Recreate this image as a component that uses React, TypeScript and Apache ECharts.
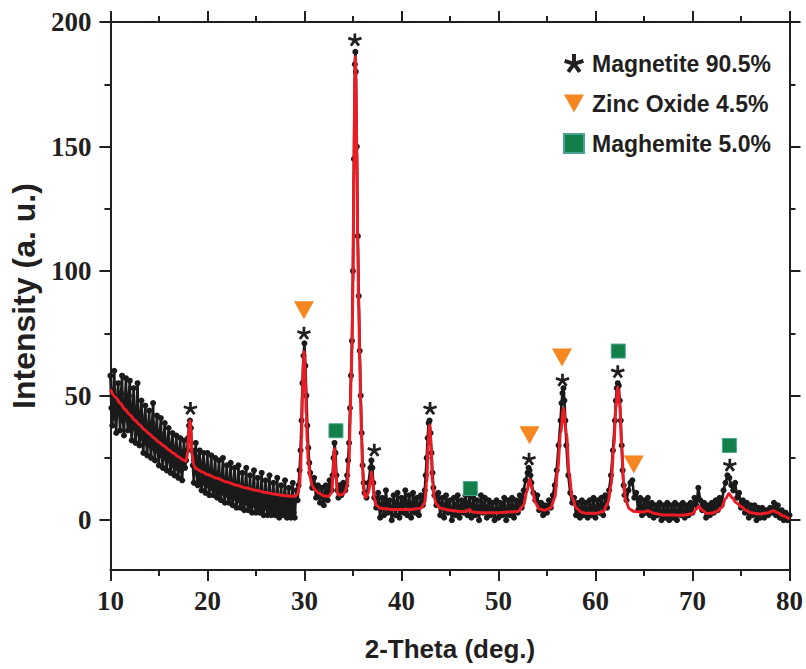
import React, { useEffect, useRef } from "react";
import * as echarts from "echarts";

// Raw XRD scan (2-theta in degrees, intensity in a.u.)
const scanLow: [number, number][] = [
  [10.0, 58], [10.1, 45], [10.2, 38], [10.3, 52], [10.4, 60], [10.5, 41], [10.6, 35], [10.7, 49], [10.8, 55], [10.9, 44],
  [11.0, 36], [11.1, 51], [11.2, 58], [11.3, 40], [11.4, 34], [11.5, 47], [11.6, 57], [11.7, 42], [11.8, 36], [11.9, 50],
  [12.0, 56], [12.1, 38], [12.2, 32], [12.3, 45], [12.4, 53], [12.5, 37], [12.6, 31], [12.7, 44], [12.8, 55], [12.9, 35],
  [13.0, 30], [13.1, 42], [13.2, 48], [13.3, 33], [13.4, 27], [13.5, 40], [13.6, 46], [13.7, 31], [13.8, 26], [13.9, 38],
  [14.0, 44], [14.1, 30], [14.2, 25], [14.3, 39], [14.4, 47], [14.5, 29], [14.6, 24], [14.7, 36], [14.8, 42], [14.9, 28],
  [15.0, 22], [15.1, 35], [15.2, 41], [15.3, 26], [15.4, 21], [15.5, 33], [15.6, 39], [15.7, 25], [15.8, 20], [15.9, 31],
  [16.0, 37], [16.1, 24], [16.2, 19], [16.3, 30], [16.4, 35], [16.5, 22], [16.6, 18], [16.7, 29], [16.8, 34], [16.9, 21],
  [17.0, 17], [17.1, 28], [17.2, 33], [17.3, 20], [17.4, 16], [17.5, 27], [17.6, 32], [17.7, 21], [17.8, 24], [17.9, 28],
  [18.0, 33], [18.1, 38], [18.2, 40], [18.3, 37], [18.4, 28], [18.5, 22], [18.6, 15], [18.7, 26], [18.8, 31], [18.9, 19],
  [19.0, 14], [19.1, 24], [19.2, 28], [19.3, 16], [19.4, 12], [19.5, 22], [19.6, 27], [19.7, 15], [19.8, 11], [19.9, 21],
  [20.0, 27], [20.1, 14], [20.2, 10], [20.3, 20], [20.4, 26], [20.5, 13], [20.6, 10], [20.7, 19], [20.8, 25], [20.9, 12],
  [21.0, 9], [21.1, 18], [21.2, 24], [21.3, 11], [21.4, 8], [21.5, 17], [21.6, 25], [21.7, 11], [21.8, 7], [21.9, 16],
  [22.0, 22], [22.1, 10], [22.2, 7], [22.3, 16], [22.4, 23], [22.5, 9], [22.6, 6], [22.7, 15], [22.8, 21], [22.9, 9],
  [23.0, 5], [23.1, 14], [23.2, 22], [23.3, 8], [23.4, 5], [23.5, 13], [23.6, 19], [23.7, 7], [23.8, 4], [23.9, 13],
  [24.0, 21], [24.1, 7], [24.2, 4], [24.3, 12], [24.4, 18], [24.5, 6], [24.6, 3], [24.7, 12], [24.8, 20], [24.9, 6],
  [25.0, 3], [25.1, 11], [25.2, 17], [25.3, 5], [25.4, 3], [25.5, 11], [25.6, 19], [25.7, 5], [25.8, 2], [25.9, 10],
  [26.0, 16], [26.1, 5], [26.2, 2], [26.3, 10], [26.4, 18], [26.5, 4], [26.6, 2], [26.7, 10], [26.8, 15], [26.9, 4],
  [27.0, 2], [27.1, 9], [27.2, 17], [27.3, 4], [27.4, 1], [27.5, 9], [27.6, 14], [27.7, 3], [27.8, 2], [27.9, 9],
  [28.0, 16], [28.1, 3], [28.2, 1], [28.3, 8], [28.4, 13], [28.5, 3], [28.6, 1], [28.7, 8], [28.8, 15], [28.9, 3],
  [29.0, 1], [29.1, 8], [29.2, 12],
];

const scanMid: [number, number][] = [
  [29.3, 8], [29.4, 14], [29.5, 20], [29.6, 28], [29.7, 40], [29.8, 55], [29.9, 66], [30.0, 71],
  [30.1, 62], [30.2, 50], [30.3, 38], [30.4, 29], [30.5, 23], [30.6, 19], [30.8, 13], [31.0, 17],
  [31.2, 9], [31.4, 14], [31.6, 7], [31.8, 13], [32.0, 6], [32.2, 14], [32.4, 8], [32.6, 16],
  [32.8, 12], [32.9, 18], [33.0, 25], [33.1, 31], [33.2, 27], [33.3, 18], [33.4, 12], [33.5, 9],
  [33.6, 14], [33.8, 10], [34.0, 15], [34.2, 12], [34.3, 14], [34.4, 18], [34.5, 24], [34.6, 31],
  [34.7, 45], [34.8, 58], [34.9, 72], [35.0, 100], [35.1, 145], [35.2, 183], [35.25, 188], [35.3, 180],
  [35.4, 150], [35.5, 114], [35.6, 90], [35.7, 68], [35.8, 50], [35.9, 35], [36.0, 22], [36.1, 15],
  [36.2, 11], [36.4, 9], [36.6, 15], [36.8, 21], [36.9, 24], [37.0, 21], [37.1, 15], [37.2, 9],
  [37.4, 5], [37.6, 11], [37.8, 1], [38.0, 9], [38.2, 2], [38.4, 12], [38.6, 3], [38.8, 8],
  [39.0, 0], [39.2, 10], [39.4, 2], [39.6, 11], [39.8, 1], [40.0, 9], [40.2, 3], [40.4, 12],
  [40.6, 2], [40.8, 10], [41.0, 1], [41.2, 11], [41.4, 3], [41.6, 9], [41.8, 2], [42.0, 10],
  [42.2, 6], [42.4, 12], [42.5, 18], [42.6, 25], [42.7, 33], [42.8, 39], [42.9, 40], [43.0, 35],
  [43.1, 27], [43.2, 19], [43.3, 13], [43.4, 10], [43.6, 6], [43.8, 11], [44.0, 2],
];

const scanHigh: [number, number][] = [
  [44.2, 9], [44.4, 1], [44.6, 10], [44.8, 3], [45.0, 8], [45.2, 0], [45.4, 9], [45.6, 2],
  [45.8, 10], [46.0, 1], [46.2, 8], [46.4, 3], [46.6, 10], [46.8, 2], [47.0, 11], [47.2, 1],
  [47.4, 9], [47.6, 2], [47.8, 8], [48.0, 0], [48.2, 10], [48.4, 3], [48.6, 9], [48.8, 1],
  [49.0, 8], [49.2, 2], [49.4, 7], [49.6, 0], [49.8, 8], [50.0, 1], [50.2, 7], [50.4, 2],
  [50.6, 9], [50.8, 0], [51.0, 8], [51.2, 2], [51.4, 9], [51.6, 1], [51.8, 8], [52.0, 3],
  [52.2, 10], [52.4, 5], [52.6, 12], [52.8, 16], [53.0, 19], [53.1, 21], [53.2, 20], [53.3, 18],
  [53.4, 15], [53.6, 11], [53.8, 8], [54.0, 10], [54.2, 4], [54.4, 7], [54.6, 2], [54.8, 6],
  [55.0, 3], [55.2, 8], [55.4, 5], [55.6, 10], [55.8, 14], [56.0, 20], [56.2, 30], [56.4, 40],
  [56.5, 47], [56.6, 51], [56.7, 53], [56.8, 48], [56.9, 40], [57.0, 30], [57.2, 18], [57.4, 11],
  [57.6, 7], [57.8, 9], [58.0, 2], [58.2, 7], [58.4, 1], [58.6, 8], [58.8, 2], [59.0, 7],
  [59.2, 1], [59.4, 8], [59.6, 2], [59.8, 9], [60.0, 1], [60.2, 8], [60.4, 3], [60.6, 9],
  [60.8, 2], [61.0, 10], [61.2, 5], [61.4, 12], [61.6, 18],
];

const scanEnd: [number, number][] = [
  [61.8, 28], [62.0, 40], [62.1, 48], [62.2, 53], [62.3, 55], [62.4, 54], [62.5, 48], [62.6, 40],
  [62.7, 30], [62.8, 20], [62.9, 14], [63.0, 10], [63.2, 8], [63.4, 12], [63.6, 15], [63.8, 16],
  [64.0, 9], [64.2, 11], [64.4, 4], [64.6, 9], [64.8, 2], [65.0, 8], [65.2, 3], [65.4, 9],
  [65.6, 2], [65.8, 7], [66.0, 1], [66.2, 6], [66.4, 2], [66.6, 7], [66.8, 0], [67.0, 6],
  [67.2, 1], [67.4, 7], [67.6, 0], [67.8, 6], [68.0, 1], [68.2, 7], [68.4, 0], [68.6, 6],
  [68.8, 2], [69.0, 7], [69.2, 1], [69.4, 6], [69.6, 2], [69.8, 7], [70.0, 3], [70.2, 9],
  [70.4, 6], [70.6, 13], [70.8, 8], [71.0, 4], [71.2, 7], [71.4, 1], [71.6, 6], [71.8, 2],
  [72.0, 7], [72.2, 3], [72.4, 8], [72.6, 4], [72.8, 9], [73.0, 6], [73.2, 12], [73.4, 15],
  [73.6, 18], [73.8, 17], [74.0, 14], [74.2, 12], [74.4, 15], [74.6, 9], [74.8, 11], [75.0, 5],
  [75.2, 8], [75.4, 3], [75.6, 7], [75.8, 1], [76.0, 6], [76.2, 2], [76.4, 6], [76.6, 0],
  [76.8, 5], [77.0, 1], [77.2, 5], [77.4, 1], [77.6, 4], [77.8, 2], [78.0, 5], [78.2, 3],
  [78.4, 7], [78.6, 2], [78.8, 6], [79.0, 1], [79.2, 4], [79.4, 0], [79.6, 3], [79.8, 0], [80.0, 2],
];

// Fitted profile (red curve)
const fitCurve: [number, number][] = [
  [10, 52.5], [10.5, 49.5], [11, 47], [11.5, 44.5], [12, 42.3], [12.5, 40.2], [13, 38.3], [13.5, 36.4],
  [14, 34.7], [14.5, 33], [15, 31.3], [15.5, 29.8], [16, 28.3], [16.5, 26.9], [17, 25.5], [17.5, 24.2],
  [17.8, 23.6], [18.0, 28], [18.1, 36], [18.2, 40], [18.3, 36], [18.4, 27], [18.6, 22], [18.8, 20.7],
  [19.5, 19.3], [20, 18.3], [21, 16.8], [22, 15.3], [23, 14], [24, 12.9], [25, 12], [26, 11.1],
  [27, 10.4], [28, 9.8], [29, 9.6], [29.3, 10.5], [29.5, 14], [29.6, 20], [29.7, 33], [29.8, 50],
  [29.9, 64], [29.95, 67.6], [30.0, 66], [30.1, 56], [30.2, 42], [30.3, 31], [30.4, 24], [30.6, 17],
  [30.8, 14], [31.0, 12.5], [31.5, 10.8], [32.0, 9.8], [32.5, 9.5], [32.8, 11], [32.95, 18], [33.1, 28.8],
  [33.25, 18], [33.4, 11], [33.6, 10], [34.0, 10.5], [34.2, 11.5], [34.4, 14], [34.6, 24], [34.7, 38],
  [34.8, 55], [34.9, 68], [35.0, 95], [35.1, 140], [35.2, 178], [35.25, 186], [35.3, 178], [35.4, 148],
  [35.5, 110], [35.6, 85], [35.7, 64], [35.8, 47], [35.9, 32], [36.0, 20], [36.1, 12], [36.3, 9],
  [36.6, 11], [36.8, 16], [36.9, 19.4], [37.0, 17], [37.2, 9], [37.4, 6], [37.8, 4.8], [39, 4.3],
  [41, 4.3], [42, 4.8], [42.4, 7], [42.6, 15], [42.75, 30], [42.9, 38.2], [43.05, 30], [43.2, 15],
  [43.4, 8.5], [43.6, 6.5], [44, 4.8], [45, 4], [46, 3.5], [46.7, 3.5], [47.0, 4.3], [47.3, 3.3],
  [48, 3], [50, 3], [52, 3.5], [52.6, 6], [52.9, 11], [53.2, 16.5], [53.5, 12], [53.8, 7],
  [54.2, 4.5], [54.8, 4], [55.4, 5], [55.8, 9], [56.1, 20], [56.4, 35], [56.7, 44.8], [57.0, 35],
  [57.3, 18], [57.6, 9], [58.0, 5], [58.5, 3.3], [59, 2.8], [60, 2.7], [60.8, 3.5], [61.3, 7],
  [61.6, 14], [61.9, 30], [62.1, 45], [62.3, 53.5], [62.5, 47], [62.7, 30], [62.9, 15], [63.1, 8],
  [63.5, 4.5], [64, 3.5], [65, 3.3], [65.4, 3.8], [66, 2.8], [67, 2.1], [69, 2.0], [70, 2.6],
  [70.4, 4.5], [70.65, 5.6], [71, 4], [71.5, 2.7], [72, 2.8], [72.5, 3.5], [73, 5], [73.4, 8.5],
  [73.75, 10.7], [74.1, 9], [74.5, 7], [75, 5.5], [75.5, 4], [76, 3], [76.5, 2.7], [77, 2.5],
  [77.8, 3], [78.3, 3.8], [78.8, 3], [79.3, 1.8], [80, 0.5],
];

// Phase markers (position of each symbol, 2-theta / intensity)
const magnetiteMarks: [number, number][] = [
  [18.25, 44.8], [29.95, 75], [35.2, 192.8], [37.2, 28.1], [42.95, 44.8],
  [53.15, 24.5], [56.6, 56.2], [62.3, 59.6], [73.85, 22.1],
];
const zincOxideMarks: [number, number][] = [
  [29.95, 84.3], [53.2, 34.1], [56.55, 65.3], [63.95, 22.4],
];
const maghemiteMarks: [number, number][] = [
  [33.25, 35.9], [47.1, 12.7], [62.35, 67.9], [73.8, 30],
];

const phaseNames = ["Magnetite 90.5%", "Zinc Oxide 4.5%", "Maghemite 5.0%"];
const xMajorTicks = [10, 20, 30, 40, 50, 60, 70, 80];
const xMinorTicks = [15, 25, 35, 45, 55, 65, 75];
const yMajorTicks = [0, 50, 100, 150, 200];
const yMinorTicks = [25, 75, 125, 175];

const INK = "#231f20";
const ORANGE = "#f6861f";
const GREEN = "#13804a";
const RED = "#ec1c24";
const DOTS = "#1a1a1a";

function asteriskSymbol(): string {
  const c = 50, L = 50, hw = 10;
  let d = "";
  for (let k = 0; k < 5; k++) {
    const a = ((-90 + 72 * k) * Math.PI) / 180;
    const dx = Math.cos(a), dy = Math.sin(a);
    const nx = -dy, ny = dx;
    const pts = [
      [c + nx * hw, c + ny * hw],
      [c + nx * hw + dx * L, c + ny * hw + dy * L],
      [c - nx * hw + dx * L, c - ny * hw + dy * L],
      [c - nx * hw, c - ny * hw],
    ];
    d += "M" + pts.map((p) => p[0].toFixed(2) + "," + p[1].toFixed(2)).join("L") + "Z";
  }
  return "path://" + d;
}

const TRIANGLE = "path://M0,0L20,0L10,18Z";

export default function App() {
  const ref = useRef<HTMLDivElement>(null);
  useEffect(() => {
    if (!ref.current) return;
    const chart = echarts.init(ref.current, undefined, { renderer: "svg" });
    const scan = [...scanLow, ...scanMid, ...scanHigh, ...scanEnd];
    const asterisk = asteriskSymbol();
    const tickLabel = {
      fontFamily: "Liberation Serif",
      fontWeight: "bold" as const,
      fontSize: 27,
      color: INK,
    };
    const lineStyle = { color: INK, width: 2 };
    const tickAxisX = (position: string, values: number[], length: number, withLine: boolean) => ({
      type: "value",
      min: 10,
      max: 80,
      position,
      axisLine: { show: withLine, onZero: false, lineStyle },
      axisTick: { show: true, inside: false, length, lineStyle, customValues: values },
      axisLabel: { show: false, customValues: values },
      splitLine: { show: false },
    });
    const tickAxisY = (position: string, values: number[], length: number, withLine: boolean) => ({
      type: "value",
      min: -20,
      max: 200,
      position,
      axisLine: { show: withLine, onZero: false, lineStyle },
      axisTick: { show: true, inside: false, length, lineStyle, customValues: values },
      axisLabel: { show: false, customValues: values },
      splitLine: { show: false },
    });
    chart.setOption({
      animation: false,
      backgroundColor: "#ffffff",
      grid: { left: 109, right: 15, top: 22, bottom: 99, containLabel: false },
      legend: {
        data: phaseNames,
        orient: "vertical",
        left: 558,
        top: 47,
        itemWidth: 20,
        itemHeight: 19,
        itemGap: 17,
        selectedMode: false,
        textStyle: {
          fontFamily: "Liberation Sans",
          fontWeight: "bold",
          fontSize: 23,
          color: INK,
          padding: [0, 0, 0, 3],
        },
      },
      xAxis: [
        {
          type: "value",
          min: 10,
          max: 80,
          position: "bottom",
          name: "2-Theta (deg.)",
          nameLocation: "middle",
          nameGap: 66,
          nameTextStyle: { fontFamily: "Liberation Sans", fontWeight: "bold", fontSize: 26, color: INK },
          axisLine: { show: true, onZero: false, lineStyle },
          axisTick: { show: true, inside: false, length: 11, lineStyle, customValues: xMajorTicks },
          axisLabel: { ...tickLabel, margin: 17, customValues: xMajorTicks },
          splitLine: { show: false },
        },
        tickAxisX("bottom", xMinorTicks, 6, false),
        tickAxisX("top", xMajorTicks, 11, true),
        tickAxisX("top", xMinorTicks, 6, false),
      ],
      yAxis: [
        {
          type: "value",
          min: -20,
          max: 200,
          position: "left",
          name: "Intensity (a. u.)",
          nameLocation: "middle",
          nameGap: 70,
          nameTextStyle: { fontFamily: "Liberation Sans", fontWeight: "bold", fontSize: 32, color: INK },
          axisLine: { show: true, onZero: false, lineStyle },
          axisTick: { show: true, inside: false, length: 11, lineStyle, customValues: yMajorTicks },
          axisLabel: { ...tickLabel, margin: 19, customValues: yMajorTicks },
          splitLine: { show: false },
        },
        tickAxisY("left", yMinorTicks, 6, false),
        tickAxisY("right", yMajorTicks, 11, true),
        tickAxisY("right", yMinorTicks, 6, false),
      ],
      series: [
        {
          name: "scan",
          type: "line",
          data: scan,
          xAxisIndex: 0,
          yAxisIndex: 0,
          symbol: "circle",
          symbolSize: 6,
          showSymbol: true,
          showAllSymbol: true,
          lineStyle: { color: DOTS, width: 2.6 },
          itemStyle: { color: DOTS, borderWidth: 0, opacity: 1 },
          silent: true,
          z: 2,
        },
        {
          name: "fit",
          type: "line",
          data: fitCurve,
          xAxisIndex: 0,
          yAxisIndex: 0,
          symbol: "none",
          smooth: 0.3,
          smoothMonotone: "x",
          lineStyle: { color: RED, width: 3 },
          itemStyle: { color: RED },
          silent: true,
          z: 3,
        },
        {
          name: phaseNames[0],
          type: "scatter",
          data: magnetiteMarks,
          symbol: asterisk,
          symbolSize: [14, 13],
          itemStyle: { color: INK, opacity: 1 },
          z: 5,
        },
        {
          name: phaseNames[1],
          type: "scatter",
          data: zincOxideMarks,
          symbol: TRIANGLE,
          symbolSize: [20, 18],
          itemStyle: { color: ORANGE, opacity: 1 },
          z: 5,
        },
        {
          name: phaseNames[2],
          type: "scatter",
          data: maghemiteMarks,
          symbol: "rect",
          symbolSize: 14,
          itemStyle: { color: GREEN, borderColor: "#4aa394", borderWidth: 1, opacity: 1 },
          z: 5,
        },
      ],
    });
    return () => chart.dispose();
  }, []);
  return (
    <div
      ref={ref}
      style={{ position: "absolute", left: 0, top: 0, width: 806, height: 669, background: "#fff" }}
    />
  );
}
